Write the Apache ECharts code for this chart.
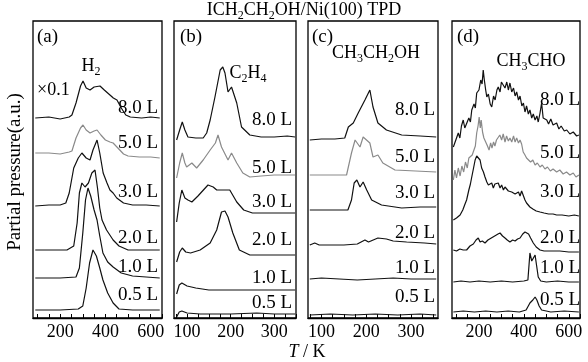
<!DOCTYPE html>
<html><head><meta charset="utf-8">
<script src="https://cdn.jsdelivr.net/npm/echarts@6/dist/echarts.min.js"></script>
<style>html,body{margin:0;padding:0;background:#fff}#c{width:588px;height:362px}</style>
</head><body><div id="c"></div>
<script>
// exposure labels (top to bottom)
const exposures = ['8.0 L','5.0 L','3.0 L','2.0 L','1.0 L','0.5 L'];
const labelsWide = [200,400,600];
const labelsNarrow = [100,200,300];

// (a) H2  [T(K), offset partial pressure (a.u.)]
const h2_80 = [[90,200],[150,201],[200,199],[240,201],[252,203],[270,215],[290,232],[301,237],[315,230],[332,228],[350,231],[376,232],[395,228],[420,223],[435,220],[451,218],[470,210],[490,203],[510,201],[560,200],[600,201],[640,200]];
const h2_50 = [[90,165],[150,165],[200,164],[240,166],[252,167],[270,180],[290,190],[301,193],[315,188],[332,185],[350,187],[363,188],[380,183],[400,178],[420,176],[434,175],[455,170],[480,164],[500,162],[550,161],[600,161],[640,160]];
const h2_30 = [[90,112],[150,113],[200,113],[225,115],[240,125],[260,150],[280,160],[296,165],[315,160],[332,158],[345,168],[363,178],[375,165],[390,145],[407,135],[420,128],[434,125],[450,120],[480,115],[520,113],[580,113],[640,112]];
const h2_20 = [[90,68],[150,68],[230,68],[260,72],[275,95],[285,125],[296,135],[310,131],[325,135],[340,145],[354,148],[365,130],[375,110],[385,98],[405,88],[434,78],[460,72],[500,68],[560,68],[640,68]];
const h2_10 = [[90,40],[200,40],[270,41],[285,50],[300,85],[312,118],[323,130],[335,122],[350,108],[363,98],[375,82],[389,65],[410,56],[434,51],[470,45],[520,42],[640,40]];
const h2_05 = [[90,8],[200,8],[280,9],[300,12],[315,30],[330,55],[345,68],[360,62],[375,50],[389,38],[410,25],[434,15],[460,9],[520,8],[640,8]];

// (b) C2H4
const c2h4_80 = [[76,178],[83,188],[89,196],[95,188],[102,181],[120,180],[137,180],[145,185],[153,198],[164,221],[176,248],[182,251],[187,245],[194,226],[202,231],[214,215],[225,191],[244,183],[270,181],[300,181],[330,182],[348,181]];
const c2h4_50 = [[76,140],[83,155],[89,165],[95,155],[99,151],[111,155],[122,150],[137,158],[153,168],[165,175],[171,183],[179,171],[194,158],[202,165],[214,155],[228,145],[244,141],[270,142],[300,143],[330,143],[348,143]];
const c2h4_30 = [[76,96],[82,115],[88,128],[95,120],[102,118],[111,116],[125,122],[148,133],[160,131],[168,128],[185,128],[198,128],[214,116],[230,108],[250,105],[280,105],[310,105],[348,105]];
const c2h4_20 = [[76,56],[83,66],[89,70],[97,66],[108,65],[130,68],[153,75],[168,88],[179,106],[187,107],[194,101],[205,85],[220,68],[244,63],[280,63],[320,63],[348,63]];
const c2h4_10 = [[76,24],[82,33],[88,35],[100,32],[120,30],[150,28],[200,28],[250,28],[300,28],[348,28]];
const c2h4_05 = [[76,1],[82,6],[88,7],[100,5],[130,4],[200,4],[260,5],[300,4],[348,4]];

// (c) CH3CH2OH
const etoh_80 = [[74,178],[100,179],[130,179],[152,180],[160,191],[171,195],[182,205],[197,218],[208,228],[215,211],[226,195],[245,188],[279,183],[320,182],[356,181]];
const etoh_50 = [[74,143],[120,143],[156,143],[167,165],[175,178],[186,171],[193,181],[197,182],[208,175],[215,161],[226,163],[237,155],[264,148],[310,147],[356,146]];
const etoh_30 = [[74,108],[120,108],[159,108],[167,118],[173,135],[179,138],[186,131],[193,136],[201,128],[212,118],[234,113],[279,110],[320,111],[356,111]];
const etoh_20 = [[74,73],[85,75],[95,73],[150,73],[180,74],[197,78],[205,76],[226,80],[245,79],[260,77],[290,76],[330,75],[356,74]];
const etoh_10 = [[74,39],[100,40],[140,39],[180,38],[220,39],[260,40],[300,39],[356,39]];
const etoh_05 = [[74,3],[120,4],[170,3],[220,4],[270,3],[320,4],[356,3]];

// (d) CH3CHO
const ald_80 = [[86,171],[97,178],[108,185],[115,180],[122,192],[130,198],[137,190],[145,191],[155,200],[162,196],[168,208],[178,214],[184,210],[190,225],[200,228],[208,238],[214,234],[219,248],[224,238],[230,228],[235,221],[242,224],[250,214],[257,211],[265,222],[272,218],[280,228],[286,231],[294,226],[300,236],[308,238],[316,230],[324,236],[331,228],[338,235],[346,226],[354,230],[361,222],[368,226],[376,218],[383,222],[391,212],[398,215],[405,206],[412,212],[420,204],[427,208],[435,200],[442,204],[450,198],[458,202],[464,196],[472,205],[479,215],[486,200],[494,202],[502,198],[510,194],[520,199],[530,193],[546,195],[556,189],[566,192],[580,187],[591,188],[605,184],[620,186],[635,182],[645,183]];
const ald_50 = [[86,138],[93,148],[100,140],[108,150],[116,142],[124,152],[132,146],[140,156],[148,150],[155,160],[162,158],[170,163],[177,162],[184,172],[190,185],[196,192],[201,201],[206,190],[210,198],[216,186],[222,180],[230,176],[238,172],[245,168],[252,175],[258,170],[265,176],[271,172],[278,178],[286,176],[293,183],[301,178],[308,184],[316,176],[323,182],[331,177],[338,180],[346,176],[354,182],[361,176],[368,180],[376,175],[383,178],[390,174],[397,166],[405,163],[412,160],[420,158],[430,156],[440,158],[450,153],[460,155],[472,151],[482,153],[494,149],[505,151],[518,147],[530,149],[546,146],[560,148],[575,144],[590,146],[605,143],[620,145],[632,141],[645,143]];
const ald_30 = [[86,98],[100,100],[116,103],[128,108],[138,114],[145,118],[155,128],[162,134],[168,141],[176,150],[183,158],[190,162],[197,160],[205,158],[212,150],[220,146],[227,141],[235,136],[242,133],[249,131],[257,135],[264,130],[271,134],[279,133],[286,135],[294,130],[301,133],[309,128],[316,131],[324,130],[331,127],[338,129],[346,126],[354,127],[361,124],[368,125],[376,126],[383,122],[390,127],[398,125],[405,118],[412,115],[420,113],[427,111],[440,109],[455,107],[472,106],[490,105],[510,104],[530,104],[546,103],[570,103],[600,102],[625,103],[645,102]];
const ald_20 = [[86,68],[100,67],[115,69],[130,68],[145,68],[160,72],[175,74],[187,78],[197,80],[205,76],[215,77],[227,75],[240,78],[255,80],[270,82],[285,84],[294,85],[305,82],[316,80],[326,78],[338,76],[350,78],[361,77],[372,79],[383,80],[395,84],[405,86],[413,87],[421,84],[430,80],[442,75],[455,71],[472,68],[490,67],[520,67],[560,67],[600,66],[645,66]];
const ald_10 = [[86,36],[120,37],[160,36],[200,37],[250,36],[300,37],[350,36],[400,37],[418,38],[427,65],[435,57],[442,58],[450,63],[457,52],[464,41],[475,37],[500,36],[550,37],[600,36],[645,36]];
const ald_05 = [[86,6],[130,7],[180,6],[230,7],[280,6],[330,7],[380,6],[410,8],[427,15],[440,18],[450,21],[458,18],[468,12],[479,8],[520,6],[580,7],[645,6]];

const panels = [
  {traces:[h2_80,h2_50,h2_30,h2_20,h2_10,h2_05], min:80, max:650, ticks:[100,150,200,250,300,350,400,450,500,550,600,650], labels:labelsWide},
  {traces:[c2h4_80,c2h4_50,c2h4_30,c2h4_20,c2h4_10,c2h4_05], min:70, max:350, ticks:[75,100,125,150,175,200,225,250,275,300,325,350], labels:labelsNarrow},
  {traces:[etoh_80,etoh_50,etoh_30,etoh_20,etoh_10,etoh_05], min:70, max:360, ticks:[75,100,125,150,175,200,225,250,275,300,325,350], labels:labelsNarrow},
  {traces:[ald_80,ald_50,ald_30,ald_20,ald_10,ald_05], min:80, max:650, ticks:[100,150,200,250,300,350,400,450,500,550,600,650], labels:labelsWide}
];

const FONT = 'Liberation Serif';
const gridBox = [[33,129],[174,122],[308,130],[452,128]];
const grids = gridBox.map(g => ({left:g[0], width:g[1], top:21, height:297, show:true, borderColor:'#000', borderWidth:1.3, backgroundColor:'transparent'}));
const xAxes = panels.map((p,i) => ({
  type:'value', gridIndex:i, min:p.min, max:p.max,
  axisLine:{show:true, lineStyle:{color:'#000', width:1.3}},
  axisTick:{show:true, inside:true, length:4, customValues:p.ticks, lineStyle:{color:'#000', width:1}},
  axisLabel:{customValues:p.labels, color:'#000', fontFamily:FONT, fontSize:18, margin:5},
  splitLine:{show:false}
}));
const yAxes = panels.map((p,i) => ({type:'value', gridIndex:i, min:0, max:297, show:false, splitLine:{show:false}}));
const series = [];
panels.forEach((p,i) => p.traces.forEach((d,k) => series.push({
  type:'line', xAxisIndex:i, yAxisIndex:i, data:d, showSymbol:false, animation:false,
  lineStyle:{color: k===1 ? '#8a8a8a' : '#111', width:1.2}, silent:true
})));

const rich = {
  n:{fontFamily:FONT, fontSize:18, color:'#000', lineHeight:24, verticalAlign:'middle'},
  s:{fontFamily:FONT, fontSize:12, color:'#000', lineHeight:12, verticalAlign:'bottom'}
};
function txt(x,y,text,opts){
  return Object.assign({type:'text', x:x, y:y, silent:true, style:Object.assign({text:text, fill:'#000', font:'18px "Liberation Serif"', align:'left', verticalAlign:'middle'}, opts||{})});
}
function richTxt(x,y,text,align){
  return {type:'text', x:x, y:y, silent:true, style:{text:text, rich:rich, align:align||'center', verticalAlign:'middle', fill:'#000'}};
}
const lblPos = [
  {x:118, ys:[108,143,192,238,267,295]},
  {x:252, ys:[120,168,202,240,278,303]},
  {x:395, ys:[110,157,193,233,268,297]},
  {x:540, ys:[100,153,192,238,268,300]}
];
const graphics = [];
lblPos.forEach(lp => lp.ys.forEach((y,k) => graphics.push(txt(lp.x, y, exposures[k], {font:'19px "Liberation Serif"'}))));
['(a)','(b)','(c)','(d)'].forEach((t,i) => graphics.push(txt([37,180,312,457][i], 37, t, {font:'19px "Liberation Serif"'})));
graphics.push(txt(37, 90, '×0.1', {font:'18px "Liberation Serif"'}));
graphics.push(richTxt(91, 66, '{n|H}{s|2}'));
graphics.push(richTxt(248, 73, '{n|C}{s|2}{n|H}{s|4}'));
graphics.push(richTxt(376, 53, '{n|CH}{s|3}{n|CH}{s|2}{n|OH}'));
graphics.push(richTxt(531, 61, '{n|CH}{s|3}{n|CHO}'));
graphics.push(richTxt(304, 10, '{n|ICH}{s|2}{n|CH}{s|2}{n|OH/Ni(100) TPD}'));
graphics.push({type:'text', x:15, y:172, rotation:Math.PI/2, silent:true, style:{text:'Partial pressure(a.u.)', font:'19px "Liberation Serif"', fill:'#000', align:'center', verticalAlign:'middle'}});
graphics.push({type:'text', x:307, y:352, silent:true, style:{text:'{i|T}{n| / K}', rich:{i:{fontFamily:FONT, fontStyle:'italic', fontSize:18, color:'#000'}, n:{fontFamily:FONT, fontSize:18, color:'#000'}}, align:'center', verticalAlign:'middle'}});

const chart = echarts.init(document.getElementById('c'), null, {renderer:'canvas'});
chart.setOption({
  animation:false, backgroundColor:'#fff',
  grid:grids, xAxis:xAxes, yAxis:yAxes, series:series, graphic:graphics
});
</script></body></html>
